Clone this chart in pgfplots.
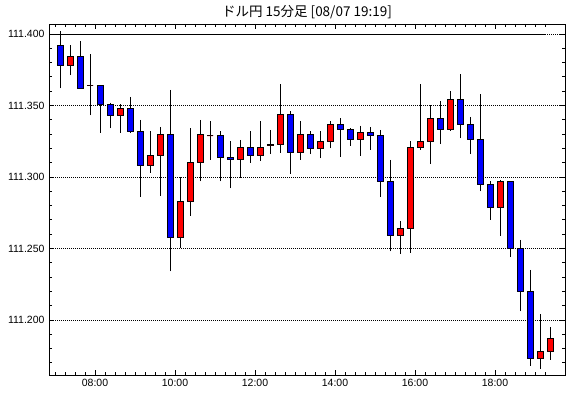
\documentclass[border=0pt]{standalone}
\usepackage{pgfplots}
\pgfplotsset{compat=1.18}
\usepackage{pgfplotstable}
\usepgfplotslibrary{statistics}
\usepackage{fontspec}
\setmainfont{Liberation Sans}
\newfontfamily\cjk{Noto Sans CJK JP}
\definecolor{upred}{RGB}{255,0,0}
\definecolor{dnblue}{RGB}{0,0,255}

% x = bar centre (hours), o h l c, u = 1 if close >= open
\pgfplotstableread{
x o h l c u
7.125 111.392 111.402 111.362 111.378 0
7.375 111.378 111.392 111.371 111.384 1
7.625 111.384 111.395 111.362 111.362 0
7.875 111.364 111.386 111.343 111.364 1
8.125 111.364 111.364 111.331 111.351 0
8.375 111.351 111.352 111.334 111.343 0
8.625 111.343 111.351 111.331 111.348 1
8.875 111.348 111.356 111.331 111.332 0
9.125 111.332 111.340 111.286 111.308 0
9.375 111.308 111.332 111.303 111.315 1
9.625 111.315 111.335 111.287 111.330 1
9.875 111.330 111.361 111.234 111.258 0
10.125 111.258 111.300 111.250 111.283 1
10.375 111.283 111.334 111.273 111.310 1
10.625 111.310 111.340 111.297 111.330 1
10.875 111.329 111.339 111.312 111.329 1
11.125 111.329 111.332 111.297 111.314 0
11.375 111.314 111.325 111.292 111.312 0
11.625 111.312 111.326 111.299 111.321 1
11.875 111.321 111.332 111.310 111.315 0
12.125 111.315 111.339 111.311 111.321 1
12.375 111.322 111.333 111.316 111.323 1
12.625 111.323 111.365 111.317 111.344 1
12.875 111.344 111.346 111.302 111.317 0
13.125 111.317 111.339 111.312 111.330 1
13.375 111.330 111.332 111.316 111.320 0
13.625 111.320 111.332 111.313 111.325 1
13.875 111.325 111.339 111.320 111.337 1
14.125 111.337 111.341 111.314 111.333 0
14.375 111.333 111.334 111.322 111.326 0
14.625 111.326 111.336 111.315 111.331 1
14.875 111.331 111.335 111.319 111.329 0
15.125 111.329 111.333 111.286 111.297 0
15.375 111.297 111.312 111.248 111.259 0
15.625 111.259 111.269 111.246 111.264 1
15.875 111.264 111.325 111.247 111.321 1
16.125 111.321 111.365 111.319 111.325 1
16.375 111.325 111.350 111.309 111.341 1
16.625 111.341 111.353 111.323 111.333 0
16.875 111.333 111.360 111.332 111.354 1
17.125 111.354 111.372 111.327 111.337 0
17.375 111.337 111.342 111.316 111.326 0
17.625 111.326 111.358 111.290 111.295 0
17.875 111.295 111.297 111.270 111.279 0
18.125 111.279 111.298 111.259 111.297 1
18.375 111.297 111.297 111.244 111.250 0
18.625 111.250 111.256 111.206 111.220 0
18.875 111.220 111.235 111.168 111.173 0
19.125 111.173 111.204 111.166 111.178 1
19.375 111.178 111.195 111.172 111.187 1
}\candles

\begin{document}
\begin{tikzpicture}
\begin{axis}[
  scale only axis,
  width=516pt, height=351pt,
  xmin=6.85, xmax=19.75,
  ymin=111.1615, ymax=111.407,
  axis line style={line width=0.9pt},
  xtick={8,10,12,14,16,18},
  xticklabels={08:00,10:00,12:00,14:00,16:00,18:00},
  minor xtick={7,7.25,7.5,7.75,8.25,8.5,8.75,9,9.25,9.5,9.75,10.25,10.5,10.75,11,11.25,11.5,11.75,12.25,12.5,12.75,13,13.25,13.5,13.75,14.25,14.5,14.75,15,15.25,15.5,15.75,16.25,16.5,16.75,17,17.25,17.5,17.75,18.25,18.5,18.75,19,19.25},
  ytick={111.2,111.25,111.3,111.35,111.4},
  yticklabels={111.200,111.250,111.300,111.350,111.400},
  minor ytick={111.17,111.18,111.19,111.21,111.22,111.23,111.24,111.26,111.27,111.28,111.29,111.31,111.32,111.33,111.34,111.36,111.37,111.38,111.39},
  major tick length=5pt, minor tick length=3pt,
  every tick/.style={black, line width=0.8pt},
  ymajorgrids,
  major grid style={black, line width=0.8pt, dash pattern=on 1pt off 1pt},
  tick label style={font=\fontsize{10.5}{12}\selectfont},
  xticklabel style={yshift=-1pt},
  yticklabel style={xshift=-1pt},
  title={\cjk ドル円 15分足 [08/07 19:19]},
  title style={font=\fontsize{13.5}{15}\selectfont, yshift=-4pt},
  clip=false,
  candle/.style={draw=black, line width=0.8pt, solid,
    boxplot/draw direction=y,
    boxplot/box extend=0.15,
    boxplot/whisker extend=0,
    boxplot/every median/.style={draw=none}},
]
\addplot[black, line width=0.9pt] coordinates {(6.85,111.4) (19.25,111.4)};
\pgfplotsinvokeforeach{0,...,49}{
  \pgfplotstablegetelem{#1}{x}\of\candles \let\cx\pgfplotsretval
  \pgfplotstablegetelem{#1}{o}\of\candles \let\co\pgfplotsretval
  \pgfplotstablegetelem{#1}{h}\of\candles \let\ch\pgfplotsretval
  \pgfplotstablegetelem{#1}{l}\of\candles \let\cl\pgfplotsretval
  \pgfplotstablegetelem{#1}{c}\of\candles \let\cc\pgfplotsretval
  \pgfplotstablegetelem{#1}{u}\of\candles
  \ifnum\pgfplotsretval=1
    \edef\candlecmd{\noexpand\addplot[candle, fill=upred,
      boxplot prepared={draw position=\cx,
        lower whisker=\cl, lower quartile=\co, median=\co,
        upper quartile=\cc, upper whisker=\ch}] coordinates {};}
  \else
    \edef\candlecmd{\noexpand\addplot[candle, fill=dnblue,
      boxplot prepared={draw position=\cx,
        lower whisker=\cl, lower quartile=\cc, median=\cc,
        upper quartile=\co, upper whisker=\ch}] coordinates {};}
  \fi
  \candlecmd
}
\end{axis}
\pgfresetboundingbox
\path[use as bounding box] ([xshift=-49pt,yshift=-23pt]current axis.south west) rectangle ([xshift=5pt,yshift=24pt]current axis.north east);
\end{tikzpicture}
\end{document}
